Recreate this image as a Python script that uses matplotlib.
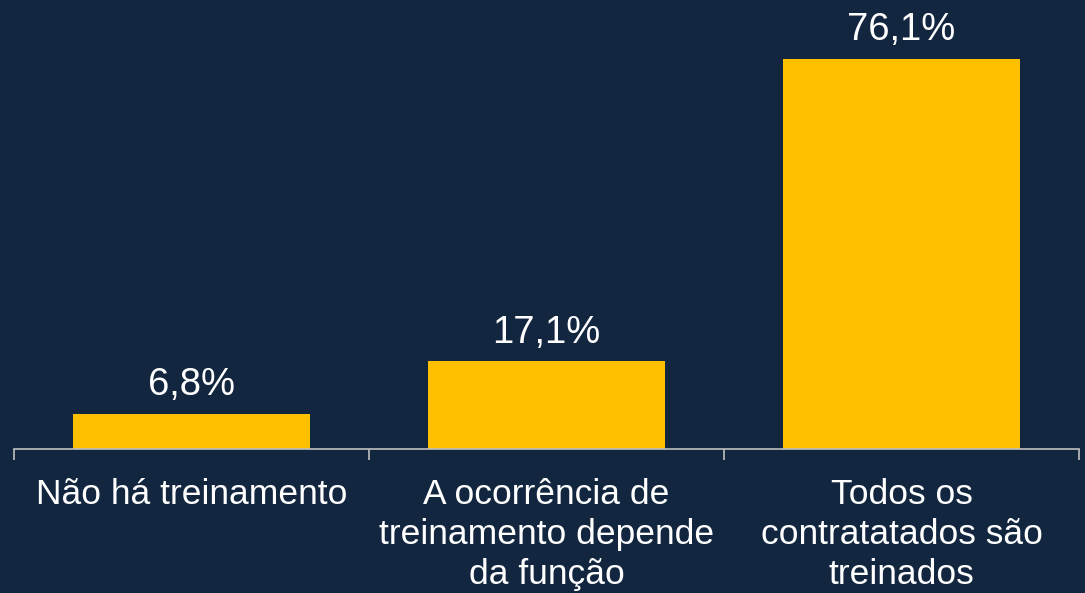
import matplotlib
matplotlib.use("Agg")
import matplotlib.pyplot as plt

categories = ["Não há treinamento",
              "A ocorrência de\ntreinamento depende\nda função",
              "Todos os\ncontratatados são\ntreinados"]
values = [6.8, 17.1, 76.1]
value_labels = ["6,8%", "17,1%", "76,1%"]

BG = "#12263F"
BAR = "#FFC000"

plt.rcParams['font.family'] = ['Liberation Sans', 'DejaVu Sans']

fig = plt.figure(figsize=(10.85, 5.93), dpi=100, facecolor=BG)
W, H = 1085, 593
ax = fig.add_axes([14 / W, 1 - 449 / H, 1065 / W, 449 / H])
ax.set_facecolor(BG)

x = list(range(len(categories)))
ax.bar(x, values, width=0.667, color=BAR, zorder=2)
ax.set_xlim(-0.5, 2.5)
ax.set_ylim(0, 449 / 5.125)

for xi, v, lab in zip(x, values, value_labels):
    ax.annotate(lab, (xi, v), xytext=(0, 13.5), textcoords='offset points',
                ha='center', va='baseline', color='white', fontsize=27.5)

ax.set_xticks([-0.5, 0.5, 1.5, 2.5])
ax.set_xticklabels([])
ax.set_xticks(x, minor=True)
ax.set_xticklabels(categories, minor=True, fontsize=25.5, color='white', linespacing=1.27)
ax.tick_params(axis='x', which='major', length=8, width=1.2, color='#BFBFBF')
ax.tick_params(axis='x', which='minor', length=0, pad=21)
ax.set_yticks([])

for s in ['top', 'right', 'left']:
    ax.spines[s].set_visible(False)
ax.spines['bottom'].set_color('#BFBFBF')
ax.spines['bottom'].set_linewidth(1.2)
ax.spines['bottom'].set_zorder(3)

fig.savefig("out.png", dpi=100, facecolor=BG)
